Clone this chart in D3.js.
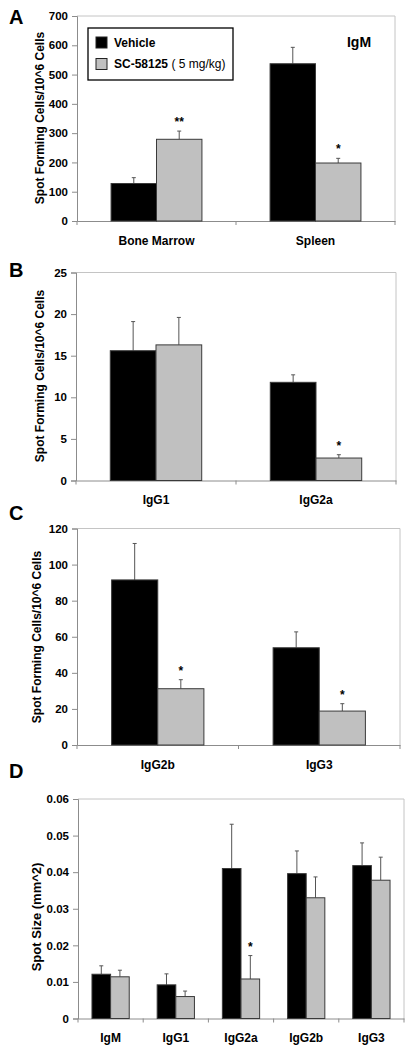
<!DOCTYPE html>
<html><head><meta charset="utf-8">
<script src="https://cdn.jsdelivr.net/npm/d3@7"></script>
<style>
body{margin:0;background:#fff;}
svg{display:block;font-family:Arial,"Liberation Sans",sans-serif;}
</style></head>
<body>
<svg id="chart" width="409" height="1050"></svg>
<script>
// ---- Data ----
const seriesNames = ["Vehicle", "SC-58125"];
const seriesDose = " ( 5 mg/kg)";

const catsA = ["Bone Marrow", "Spleen"];
const vehA = [128, 537];
const vehErrA = [20, 56];
const scA = [279, 198];
const scErrA = [28, 16];
const sigA = ["**", "*"];
const ticksA = [0, 100, 200, 300, 400, 500, 600, 700];

const catsB = ["IgG1", "IgG2a"];
const vehB = [15.6, 11.8];
const vehErrB = [3.5, 0.9];
const scB = [16.3, 2.7];
const scErrB = [3.3, 0.4];
const sigB = ["", "*"];
const ticksB = [0, 5, 10, 15, 20, 25];

const catsC = ["IgG2b", "IgG3"];
const vehC = [91.5, 53.9];
const vehErrC = [20.2, 8.8];
const scC = [31.2, 18.8];
const scErrC = [5.0, 4.1];
const sigC = ["*", "*"];
const ticksC = [0, 20, 40, 60, 80, 100, 120];

const catsD = ["IgM", "IgG1", "IgG2a", "IgG2b", "IgG3"];
const vehD = [0.0121, 0.0092, 0.0410, 0.0396, 0.0418];
const vehErrD = [0.0023, 0.0030, 0.0121, 0.0062, 0.0062];
const scD = [0.0114, 0.0060, 0.0108, 0.0330, 0.0378];
const scErrD = [0.0018, 0.0015, 0.0064, 0.0057, 0.0063];
const sigD = ["", "", "*", "", ""];
const ticksD = [0, 0.01, 0.02, 0.03, 0.04, 0.05, 0.06];

const svg = d3.select("#chart");
const FILL = ["#000000", "#c0c0c0"];

function panel(opt) {
  const g = svg.append("g");
  const x = d3.scaleBand().domain(opt.cats).range([opt.x0, opt.x1]).padding(0);
  const y = d3.scaleLinear().domain([0, opt.ticks[opt.ticks.length - 1]]).range([opt.y1, opt.y0]);
  const bw = x.bandwidth() / 3.5;

  g.append("path")
    .attr("d", `M${opt.x0},${opt.y0}H${opt.x1}V${opt.y1}`)
    .attr("fill", "none").attr("stroke", "#c4c4c4").attr("stroke-width", 1);

  const ya = g.append("g").attr("transform", `translate(${opt.x0},0)`)
    .call(d3.axisLeft(y).tickValues(opt.ticks).tickSize(5).tickPadding(4).tickFormat(opt.fmt));
  ya.select(".domain").attr("stroke", "#8c8c8c");
  ya.selectAll(".tick line").attr("stroke", "#8c8c8c");
  ya.selectAll("text").attr("font-size", 11.5).attr("font-weight", "bold").attr("fill", "#000")
    .attr("font-family", "Arial, 'Liberation Sans', sans-serif");

  const xa = g.append("g").attr("transform", `translate(0,${opt.y1})`)
    .call(d3.axisBottom(x).tickSize(0).tickPadding(15));
  xa.select(".domain").attr("stroke", "#8c8c8c");
  xa.selectAll("text").attr("font-size", 12).attr("font-weight", "bold").attr("fill", "#000")
    .attr("font-family", "Arial, 'Liberation Sans', sans-serif");
  const bounds = opt.cats.map(c => x(c)).concat([opt.x1]);
  g.selectAll(".bt").data(bounds).enter().append("line")
    .attr("x1", d => d).attr("x2", d => d).attr("y1", opt.y1).attr("y2", opt.y1 + 4)
    .attr("stroke", "#8c8c8c");

  const series = [opt.veh, opt.sc];
  const errs = [opt.vehErr, opt.scErr];
  series.forEach((vals, si) => {
    const xoff = si === 0 ? -bw : 0;
    g.selectAll(".e" + si).data(vals).enter().append("line")
      .attr("x1", (d, i) => x(opt.cats[i]) + x.bandwidth() / 2 + xoff + bw / 2)
      .attr("x2", (d, i) => x(opt.cats[i]) + x.bandwidth() / 2 + xoff + bw / 2)
      .attr("y1", d => y(d)).attr("y2", (d, i) => y(d + errs[si][i]))
      .attr("stroke", "#555").attr("stroke-width", 1);
    g.selectAll(".c" + si).data(vals).enter().append("line")
      .attr("x1", (d, i) => x(opt.cats[i]) + x.bandwidth() / 2 + xoff + bw / 2 - 2)
      .attr("x2", (d, i) => x(opt.cats[i]) + x.bandwidth() / 2 + xoff + bw / 2 + 2)
      .attr("y1", (d, i) => y(d + errs[si][i])).attr("y2", (d, i) => y(d + errs[si][i]))
      .attr("stroke", "#555").attr("stroke-width", 1);
    g.selectAll(".b" + si).data(vals).enter().append("rect")
      .attr("x", (d, i) => x(opt.cats[i]) + x.bandwidth() / 2 + xoff)
      .attr("width", bw)
      .attr("y", d => y(d)).attr("height", d => y(0) - y(d))
      .attr("fill", FILL[si]).attr("stroke", "#3a3a3a").attr("stroke-width", 1);
  });
  g.selectAll(".s").data(opt.sig).enter().append("text")
    .attr("x", (d, i) => x(opt.cats[i]) + x.bandwidth() / 2 + bw / 2)
    .attr("y", (d, i) => y(opt.sc[i] + opt.scErr[i]) - 5)
    .attr("text-anchor", "middle").attr("font-size", 12).attr("font-weight", "bold")
    .text(d => d);

  g.append("text")
    .attr("transform", `translate(${opt.tx},${opt.ty}) rotate(-90)`)
    .attr("text-anchor", "middle").attr("font-size", opt.tsize || 12).attr("font-weight", "bold")
    .text(opt.title);

  g.append("text").attr("x", 9).attr("y", opt.ly)
    .attr("font-size", 20).attr("font-weight", "bold").text(opt.letter);
  return g;
}

const sfTitle = "Spot Forming Cells/10^6 Cells";

const gA = panel({cats: catsA, veh: vehA, vehErr: vehErrA, sc: scA, scErr: scErrA, sig: sigA,
  ticks: ticksA, fmt: d3.format("d"), x0: 77, x1: 395, y0: 16, y1: 221,
  title: sfTitle, tx: 44, ty: 118, letter: "A", ly: 24});
panel({cats: catsB, veh: vehB, vehErr: vehErrB, sc: scB, scErr: scErrB, sig: sigB,
  ticks: ticksB, fmt: d3.format("d"), x0: 76, x1: 396, y0: 272.5, y1: 480.5,
  title: sfTitle, tx: 44, ty: 376, letter: "B", ly: 277});
panel({cats: catsC, veh: vehC, vehErr: vehErrC, sc: scC, scErr: scErrC, sig: sigC,
  ticks: ticksC, fmt: d3.format("d"), x0: 77, x1: 400, y0: 528.5, y1: 745,
  title: sfTitle, tx: 41, ty: 637, letter: "C", ly: 520});
panel({cats: catsD, veh: vehD, vehErr: vehErrD, sc: scD, scErr: scErrD, sig: sigD,
  ticks: ticksD, fmt: d => d === 0 ? "0" : d3.format(".2f")(d), x0: 78, x1: 404, y0: 799, y1: 1018.5,
  title: "Spot Size (mm^2)", tsize: 13, tx: 41, ty: 917, letter: "D", ly: 778});

const lg = gA.append("g");
lg.append("rect").attr("x", 88).attr("y", 28).attr("width", 145).attr("height", 52)
  .attr("fill", "#fff").attr("stroke", "#000").attr("stroke-width", 1.3);
seriesNames.forEach((name, i) => {
  lg.append("rect").attr("x", 96).attr("y", 37 + i * 21.5).attr("width", 11).attr("height", 11)
    .attr("fill", FILL[i]).attr("stroke", "#222").attr("stroke-width", 1);
  const t = lg.append("text").attr("x", 114).attr("y", 46.5 + i * 21.5)
    .attr("font-size", 12).attr("font-weight", "bold").text(name);
  if (i === 1) t.append("tspan").attr("font-weight", "normal").text(seriesDose);
});
gA.append("text").attr("x", 359).attr("y", 47).attr("text-anchor", "middle")
  .attr("font-size", 14).attr("font-weight", "bold").text("IgM");
</script>
</body></html>
